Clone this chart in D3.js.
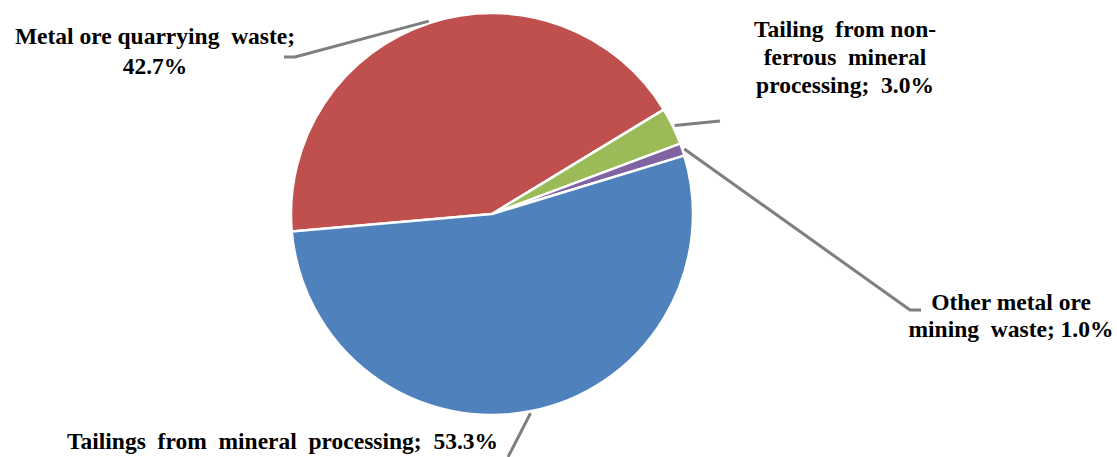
<!DOCTYPE html>
<html>
<head>
    <meta charset="utf-8">
    <script src="https://cdn.jsdelivr.net/npm/d3@7"></script>
    <style>
        body { margin: 0; background: #fff; }
    </style>
</head>
<body>
    <svg width="1117" height="457" id="mainsvg"></svg>
    <script>
        // data, in drawing order (clockwise)
        const categories = ['Metal ore quarrying waste', 'Tailing from non-ferrous mineral processing', 'Other metal ore mining waste', 'Tailings from mineral processing'];
        const shares = [42.7, 3.0, 1.0, 53.3];
        const colors = ['#C0504D', '#9BBB59', '#8064A2', '#4F81BD'];
        // "_" marks a wide gap between words as in the original
        const labelLines = [
            ['Metal ore quarrying_waste;', '42.7%'],
            ['Tailing_from non-', 'ferrous_mineral', 'processing;_3.0%'],
            ['Other metal ore', 'mining_waste; 1.0%'],
            ['Tailings_from_mineral_processing;_53.3%']
        ];

        // layout of labels and leader elbows
        const labelPos = [
            { x: 155, y: 44, anchor: 'middle', lh: 30 },
            { x: 845, y: 37, anchor: 'middle', lh: 28 },
            { x: 1011, y: 310, anchor: 'middle', lh: 27 },
            { x: 67, y: 449, anchor: 'start', lh: 28 }
        ];
        const leaderPts = [
            [[295, 57], [284, 57]],
            [[720, 121]],
            [[910, 310], [921, 310]],
            [[508, 457]]
        ];

        const svg = d3.select('#mainsvg');
        const cx = 492, cy = 214, radius = 201;
        const g = svg.append('g').attr('transform', `translate(${cx}, ${cy})`);

        const data = categories.map((c, i) => ({ name: c, value: shares[i], i: i }));
        const startA = -95 * Math.PI / 180;
        const pie = d3.pie().value(d => d.value).sort(null)
            .startAngle(startA).endAngle(startA + 2 * Math.PI);
        const arc = d3.arc().innerRadius(0).outerRadius(radius);
        const arcs = pie(data);

        g.selectAll('path.slice').data(arcs).enter().append('path')
            .attr('class', 'slice')
            .attr('d', arc)
            .attr('fill', d => colors[d.data.i])
            .attr('stroke', '#fff').attr('stroke-width', 2.5).attr('stroke-linejoin', 'round');

        // leader lines from the slice edge at its mid angle
        const line = d3.line();
        arcs.forEach(d => {
            const a = (d.startAngle + d.endAngle) / 2;
            const r0 = radius + 2;
            const p0 = [cx + r0 * Math.sin(a), cy - r0 * Math.cos(a)];
            svg.append('path')
                .attr('d', line([p0].concat(leaderPts[d.data.i])))
                .attr('fill', 'none').attr('stroke', '#7f7f7f').attr('stroke-width', 3);
        });

        // labels, one text element per line
        labelLines.forEach((lines, i) => {
            const p = labelPos[i];
            lines.forEach((s, k) => {
                svg.append('text')
                    .attr('x', p.x).attr('y', p.y + k * p.lh)
                    .attr('font-family', 'Liberation Serif')
                    .attr('font-weight', 'bold').attr('font-size', 23.5)
                    .attr('text-anchor', p.anchor)
                    .text(s.replace(/_/g, ' \u00A0'));
            });
        });
    </script>
</body>
</html>
